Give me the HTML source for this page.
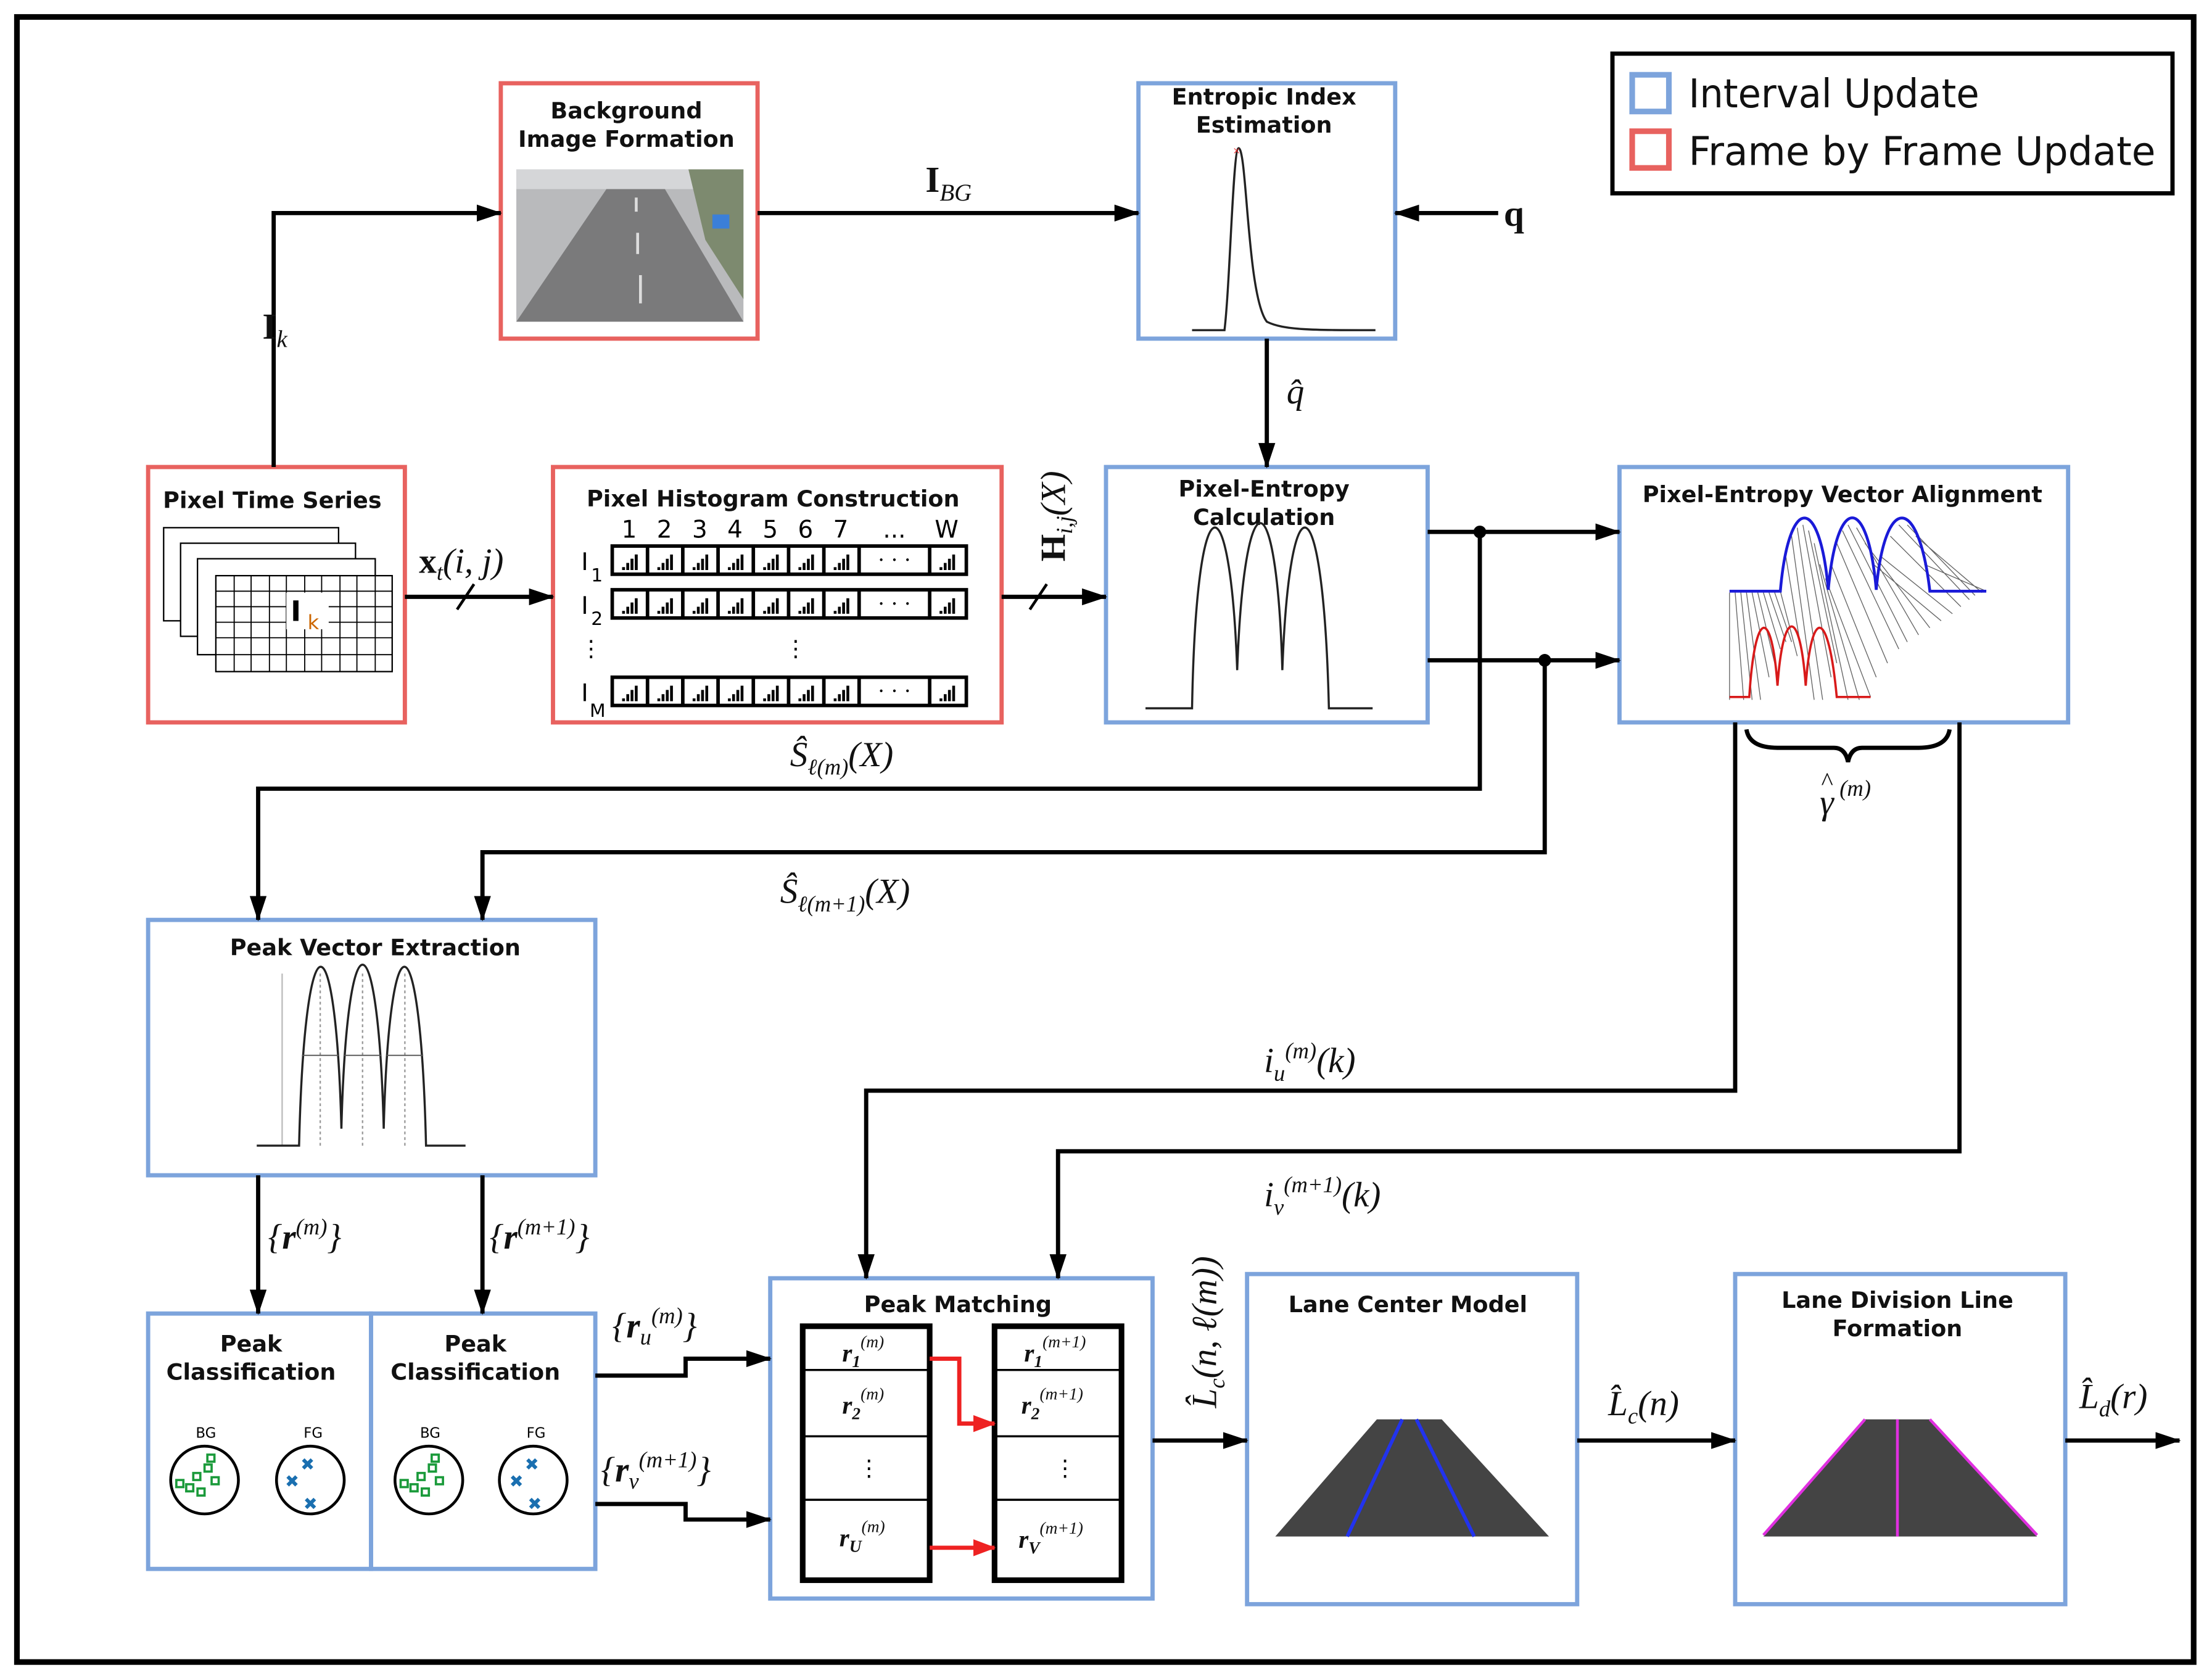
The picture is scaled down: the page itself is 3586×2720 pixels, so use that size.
<!DOCTYPE html>
<html><head><meta charset="utf-8"><style>
html,body{margin:0;padding:0;background:#fff;}
svg{display:block;}
.t{font-family:"DejaVu Sans","Liberation Sans",sans-serif;font-weight:bold;font-size:16px;fill:#111;text-anchor:middle;}
.m{font-family:"Liberation Serif",serif;font-style:italic;font-size:25px;fill:#111;}
.b{fill:none;stroke:#7da4dc;stroke-width:3;}
.r{fill:none;stroke:#e8625f;stroke-width:3;}
.l{fill:none;stroke:#000;stroke-width:3;}
</style></head><body>
<svg width="3586" height="2720" viewBox="0 0 1568 1189.3" xmlns="http://www.w3.org/2000/svg">
<defs>
<marker id="A" markerWidth="18" markerHeight="12" refX="17" refY="6" orient="auto" markerUnits="userSpaceOnUse"><path d="M0,0 L18,6 L0,12 z" fill="#000"/></marker>
<marker id="R" markerWidth="16" markerHeight="12" refX="15" refY="6" orient="auto" markerUnits="userSpaceOnUse"><path d="M0,0 L16,6 L0,12 z" fill="#e22"/></marker>
</defs>
<rect x="0" y="0" width="1568" height="1190" fill="#fff"/>
<rect x="12" y="12" width="1543" height="1166" fill="none" stroke="#000" stroke-width="4"/>
<!-- legend -->
<rect x="1143" y="38" width="397" height="99" fill="none" stroke="#000" stroke-width="3"/>
<rect x="1157" y="53" width="26" height="26" fill="none" stroke="#7da4dc" stroke-width="4"/>
<rect x="1157" y="93" width="26" height="26" fill="none" stroke="#e8625f" stroke-width="4"/>
<text x="1197" y="76" textLength="206" lengthAdjust="spacingAndGlyphs" style="font-family:'DejaVu Sans',sans-serif;font-size:28px;fill:#111">Interval Update</text>
<text x="1197" y="117" textLength="331" lengthAdjust="spacingAndGlyphs" style="font-family:'DejaVu Sans',sans-serif;font-size:28px;fill:#111">Frame by Frame Update</text>

<!-- Background image formation -->
<rect class="r" x="355" y="59" width="182" height="181"/>
<text class="t" x="444" y="84">Background</text><text class="t" x="444" y="104">Image Formation</text>
<rect x="366" y="120" width="161" height="108" fill="#b9babc"/>
<polygon points="366,228 436,125 466,125 527,228" fill="#7a7a7b"/>
<rect x="366" y="120" width="161" height="14" fill="#d5d6d8"/>
<polygon points="488,120 527,120 527,212 500,170" fill="#7d8a6f"/>
<rect x="505" y="152" width="12" height="10" fill="#3b7fd8"/>
<path d="M451,140V150M452,165V180M454,195V215" stroke="#ddd" stroke-width="2"/>

<!-- Entropic index -->
<rect class="b" x="807" y="59" width="182" height="181"/>
<text class="t" x="896" y="74">Entropic Index</text><text class="t" x="896" y="94">Estimation</text>
<path d="M845,234 L868,234 C872,200 874,105 878,105 C884,105 884,210 898,228 C910,234 930,234 975,234" fill="none" stroke="#222" stroke-width="1.5"/>
<text x="874" y="110" style="font-size:9px;fill:#e22">×</text>

<!-- Pixel time series -->
<rect class="r" x="105" y="331" width="182" height="181"/>
<text class="t" x="193" y="360">Pixel Time Series</text>
<g fill="#fff" stroke="#000" stroke-width="1">
<rect x="116" y="374" width="124" height="66"/><rect x="128" y="385" width="124" height="66"/><rect x="140" y="396" width="126" height="68"/><rect x="153" y="408" width="125" height="68"/>
</g>
<g stroke="#000" stroke-width="0.8">
<path d="M153,419H278M153,430H278M153,441H278M153,452H278M153,464H278M166,408V476M178,408V476M191,408V476M203,408V476M216,408V476M228,408V476M241,408V476M253,408V476M266,408V476"/>
</g>
<rect x="203" y="420" width="30" height="26" fill="#fff"/>
<text x="206" y="440" style="font-family:'DejaVu Sans',sans-serif;font-weight:bold;font-size:20px">I</text>
<text x="218" y="446" style="font-family:'DejaVu Sans',sans-serif;font-size:14px;fill:#c60">k</text>

<!-- Histogram -->
<rect class="r" x="392" y="331" width="318" height="181"/>
<text class="t" x="548" y="359">Pixel Histogram Construction</text>
<g style="font-family:'DejaVu Sans',sans-serif;font-size:17px" text-anchor="middle">
<text x="446" y="381">1</text><text x="471" y="381">2</text><text x="496" y="381">3</text><text x="521" y="381">4</text><text x="546" y="381">5</text><text x="571" y="381">6</text><text x="596" y="381">7</text><text x="634" y="381">...</text><text x="671" y="381">W</text></g>
<g id="row">
<rect x="434" y="387" width="251" height="20" fill="none" stroke="#000" stroke-width="2.5"/>
<g stroke="#000" stroke-width="2.5"><path d="M459,387V407M484,387V407M509,387V407M534,387V407M559,387V407M584,387V407M609,387V407M659,387V407"/></g>
</g>
<use href="#row" y="31"/><use href="#row" y="93"/>
<g fill="#000">
<path id="bars" d="M441,402h2v2h-2zM444,399h2v5h-2zM447,396h2v8h-2zM450,393h2v11h-2z"/>
</g>
<g id="allbars"><use href="#bars"/><use href="#bars" x="25"/><use href="#bars" x="50"/><use href="#bars" x="75"/><use href="#bars" x="100"/><use href="#bars" x="125"/><use href="#bars" x="150"/><use href="#bars" x="225"/></g>
<use href="#allbars" y="31"/><use href="#allbars" y="93"/>
<text x="622" y="402" style="font-size:16px">· · ·</text><text x="622" y="433" style="font-size:16px">· · ·</text><text x="622" y="495" style="font-size:16px">· · ·</text>
<text x="412" y="404" style="font-family:'DejaVu Sans',sans-serif;font-size:17px">I</text><text x="419" y="412" style="font-size:13px;font-family:'DejaVu Sans'">1</text>
<text x="412" y="435" style="font-family:'DejaVu Sans',sans-serif;font-size:17px">I</text><text x="419" y="443" style="font-size:13px;font-family:'DejaVu Sans'">2</text>
<text x="412" y="497" style="font-family:'DejaVu Sans',sans-serif;font-size:17px">I</text><text x="418" y="508" style="font-size:13px;font-family:'DejaVu Sans'">M</text>
<text x="411" y="465" style="font-size:16px">⋮</text><text x="556" y="465" style="font-size:16px">⋮</text>

<!-- Pixel-entropy calculation -->
<rect class="b" x="784" y="331" width="228" height="181"/>
<text class="t" x="896" y="352">Pixel-Entropy</text><text class="t" x="896" y="372">Calculation</text>
<path d="M812,502 H845 C848,336 872,336 877,475 C882,336 905,336 909,475 C914,336 938,336 942,502 H973" fill="none" stroke="#222" stroke-width="1.5"/>

<!-- Vector alignment -->
<rect class="b" x="1148" y="331" width="318" height="181"/>
<text class="t" x="1306" y="356">Pixel-Entropy Vector Alignment</text>
<g stroke="#666" stroke-width="0.6">
<path d="M1226,420L1226,496M1230,420L1236,496M1234,420L1242,496M1238,420L1248,496M1242,420L1254,480M1246,420L1258,470M1250,420L1262,460M1254,420L1266,455M1258,420L1270,455M1262,419L1274,465M1266,395L1280,480M1270,380L1286,496M1274,374L1292,496M1278,372L1298,480M1282,376L1302,470M1286,385L1310,496M1290,400L1318,496M1294,410L1326,494M1298,400L1330,480M1302,385L1338,470M1306,376L1346,460M1310,372L1352,455M1316,374L1360,450M1322,385L1368,445M1328,400L1376,440M1334,395L1384,435M1340,380L1390,430M1346,372L1396,425M1352,372L1400,422M1358,380L1405,420M1364,400L1408,419"/>
</g>
<path d="M1226,419 H1262 C1268,350 1290,350 1296,418 C1302,350 1324,350 1330,418 C1336,350 1360,350 1368,419 H1408" fill="none" stroke="#1a1ad8" stroke-width="2"/>
<path d="M1226,494 H1240 C1244,430 1256,430 1260,486 C1264,430 1276,430 1280,486 C1284,430 1296,430 1302,494 H1326" fill="none" stroke="#d81a1a" stroke-width="1.6"/>

<!-- Peak vector extraction -->
<rect class="b" x="105" y="652" width="317" height="181"/>
<text class="t" x="266" y="677">Peak Vector Extraction</text>
<path d="M200,690 V812" stroke="#bbb" stroke-width="1"/>
<path d="M182,812 H212 C216,645 238,645 242,800 C246,645 268,645 272,800 C276,645 298,645 302,812 H330" fill="none" stroke="#222" stroke-width="1.5"/>
<g stroke="#999" stroke-dasharray="2,2"><path d="M227,690V812M257,690V812M287,690V812"/></g>
<g stroke="#555" stroke-width="0.8"><path d="M214,748H240M244,748H270M274,748H300"/></g>

<!-- Peak classification -->
<rect class="b" x="105" y="931" width="158" height="181"/>
<rect class="b" x="263" y="931" width="159" height="181"/>
<text class="t" x="178" y="958">Peak</text><text class="t" x="178" y="978">Classification</text>
<text class="t" x="337" y="958">Peak</text><text class="t" x="337" y="978">Classification</text>
<g style="font-family:'DejaVu Sans',sans-serif;font-size:10px" text-anchor="middle">
<text x="146" y="1019">BG</text><text x="222" y="1019">FG</text><text x="305" y="1019">BG</text><text x="380" y="1019">FG</text></g>
<g fill="none" stroke="#000" stroke-width="2"><circle cx="145" cy="1049" r="24"/><circle cx="220" cy="1049" r="24"/><circle cx="304" cy="1049" r="24"/><circle cx="378" cy="1049" r="24"/></g>
<path id="sq" fill="none" stroke="#1a9a3a" stroke-width="1.6" d="M125,1049h5v5h-5zM137,1044h5v5h-5zM145,1038h5v5h-5zM150,1047h5v5h-5zM140,1055h5v5h-5zM147,1031h5v5h-5zM132,1052h5v5h-5z"/>
<use href="#sq" x="159"/>
<g fill="#1a6fb0" font-size="12" font-weight="bold" font-family="DejaVu Sans">
<text x="213" y="1042">✖</text><text x="202" y="1054">✖</text><text x="215" y="1070">✖</text>
<text x="372" y="1042">✖</text><text x="361" y="1054">✖</text><text x="374" y="1070">✖</text></g>

<!-- Peak matching -->
<rect class="b" x="546" y="906" width="271" height="227"/>
<text class="t" x="679" y="930">Peak Matching</text>
<rect x="569" y="940" width="90" height="180" fill="none" stroke="#000" stroke-width="4"/>
<rect x="705" y="940" width="90" height="180" fill="none" stroke="#000" stroke-width="4"/>
<g stroke="#000" stroke-width="1.5"><path d="M569,971H659M569,1018H659M569,1063H659M705,971H795M705,1018H795M705,1063H795"/></g>
<g class="m" style="font-size:18px;font-weight:bold">
<text x="597" y="965">r<tspan font-size="12" dy="4">1</tspan><tspan font-size="12" font-weight="normal" dy="-14">(m)</tspan></text>
<text x="597" y="1002">r<tspan font-size="12" dy="4">2</tspan><tspan font-size="12" font-weight="normal" dy="-14">(m)</tspan></text>
<text x="595" y="1096">r<tspan font-size="12" dy="4">U</tspan><tspan font-size="12" font-weight="normal" dy="-14">(m)</tspan></text>
<text x="726" y="965">r<tspan font-size="12" dy="4">1</tspan><tspan font-size="12" font-weight="normal" dy="-14">(m+1)</tspan></text>
<text x="724" y="1002">r<tspan font-size="12" dy="4">2</tspan><tspan font-size="12" font-weight="normal" dy="-14">(m+1)</tspan></text>
<text x="722" y="1097">r<tspan font-size="12" dy="4">V</tspan><tspan font-size="12" font-weight="normal" dy="-14">(m+1)</tspan></text>
</g>
<text x="608" y="1046" style="font-size:16px">⋮</text><text x="747" y="1046" style="font-size:16px">⋮</text>
<path d="M659,963 H680 V1009 H705" fill="none" stroke="#e22" stroke-width="3" marker-end="url(#R)"/>
<path d="M659,1097 H705" fill="none" stroke="#e22" stroke-width="3" marker-end="url(#R)"/>

<!-- Lane center -->
<rect class="b" x="884" y="903" width="234" height="234"/>
<text class="t" x="998" y="930">Lane Center Model</text>
<polygon points="904,1089 976,1006 1022,1006 1098,1089" fill="#444"/>
<path d="M955,1089 L994,1006 M1045,1089 L1004,1006" stroke="#2233ee" stroke-width="2.5"/>
<!-- lane division -->
<rect class="b" x="1230" y="903" width="234" height="234"/>
<text class="t" x="1345" y="927">Lane Division Line</text><text class="t" x="1345" y="947">Formation</text>
<polygon points="1250,1089 1322,1006 1368,1006 1444,1089" fill="#444"/>
<path d="M1250,1088 L1322,1006 M1444,1088 L1368,1006 M1345,1006 V1089" stroke="#e030e0" stroke-width="2"/>

<!-- connectors -->
<g class="l">
<path d="M194,331 V151 H355" marker-end="url(#A)"/>
<path d="M537,151 H807" marker-end="url(#A)"/>
<path d="M1062,151 H989" marker-end="url(#A)"/>
<path d="M898,240 V331" marker-end="url(#A)"/>
<path d="M287,423 H392" marker-end="url(#A)"/>
<path d="M710,423 H784" marker-end="url(#A)"/>
<path d="M1012,377 H1148" marker-end="url(#A)"/>
<path d="M1012,468 H1148" marker-end="url(#A)"/>
<path d="M1049,377 V559 H183 V652" marker-end="url(#A)"/>
<path d="M1095,468 V604 H342 V652" marker-end="url(#A)"/>
<path d="M1230,512 V773 H614 V906" marker-end="url(#A)"/>
<path d="M1389,512 V816 H750 V906" marker-end="url(#A)"/>
<path d="M183,833 V931" marker-end="url(#A)"/>
<path d="M342,833 V931" marker-end="url(#A)"/>
<path d="M422,975 H486 V963 H546" marker-end="url(#A)"/>
<path d="M422,1066 H486 V1077 H546" marker-end="url(#A)"/>
<path d="M817,1021 H884" marker-end="url(#A)"/>
<path d="M1118,1021 H1230" marker-end="url(#A)"/>
<path d="M1464,1021 H1545" marker-end="url(#A)"/>
<path d="M324,432 L336,414 M730,432 L742,414" stroke-width="2"/>
<path d="M1238,517 Q1240,530 1260,530 H1300 Q1308,530 1310,540 Q1312,530 1320,530 H1360 Q1380,530 1382,517" stroke-width="3"/>
</g>
<circle cx="1049" cy="377" r="4.5"/><circle cx="1095" cy="468" r="4.5"/>

<!-- math labels -->
<g class="m">
<text x="186" y="240" font-style="normal" font-weight="bold" font-size="26">I<tspan font-style="italic" font-weight="normal" font-size="17" dy="6">k</tspan></text>
<text x="656" y="136" font-style="normal" font-weight="bold" font-size="26">I<tspan font-style="italic" font-weight="normal" font-size="17" dy="6">BG</tspan></text>
<text x="1066" y="160" font-style="normal" font-weight="bold" font-size="26">q</text>
<text x="912" y="286">q̂</text>
<text x="297" y="406"><tspan font-style="normal" font-weight="bold">x</tspan><tspan font-size="16" dy="5">t</tspan><tspan dy="-5">(i, j)</tspan></text>
<text transform="translate(755,398) rotate(-90)"><tspan font-style="normal" font-weight="bold">H</tspan><tspan font-size="16" dy="5">i,j</tspan><tspan dy="-5">(X)</tspan></text>
<text x="560" y="543">Ŝ<tspan font-size="16" dy="6">ℓ(m)</tspan><tspan dy="-6">(X)</tspan></text>
<text x="553" y="640">Ŝ<tspan font-size="16" dy="6">ℓ(m+1)</tspan><tspan dy="-6">(X)</tspan></text>
<text x="1290" y="577">γ</text><text x="1291" y="560" font-size="18" font-style="normal">^</text><text x="1304" y="564" font-size="16">(m)</text>
<text x="896" y="760">i<tspan font-size="16" dy="6">u</tspan><tspan font-size="16" dy="-16">(m)</tspan><tspan dy="10">(k)</tspan></text>
<text x="896" y="855">i<tspan font-size="16" dy="6">v</tspan><tspan font-size="16" dy="-16">(m+1)</tspan><tspan dy="10">(k)</tspan></text>
<text x="190" y="885">{<tspan font-weight="bold">r</tspan><tspan font-size="16" dy="-10">(m)</tspan><tspan dy="10">}</tspan></text>
<text x="347" y="885">{<tspan font-weight="bold">r</tspan><tspan font-size="16" dy="-10">(m+1)</tspan><tspan dy="10">}</tspan></text>
<text x="434" y="948">{<tspan font-weight="bold">r</tspan><tspan font-size="16" dy="5">u</tspan><tspan font-size="16" dy="-15">(m)</tspan><tspan dy="10">}</tspan></text>
<text x="426" y="1050">{<tspan font-weight="bold">r</tspan><tspan font-size="16" dy="5">v</tspan><tspan font-size="16" dy="-15">(m+1)</tspan><tspan dy="10">}</tspan></text>
<text transform="translate(862,998) rotate(-90)">L̂<tspan font-size="16" dy="6">c</tspan><tspan dy="-6">(n, ℓ(m))</tspan></text>
<text x="1140" y="1003">L̂<tspan font-size="16" dy="6">c</tspan><tspan dy="-6">(n)</tspan></text>
<text x="1474" y="998">L̂<tspan font-size="16" dy="6">d</tspan><tspan dy="-6">(r)</tspan></text>
</g>
</svg>
</body></html>
